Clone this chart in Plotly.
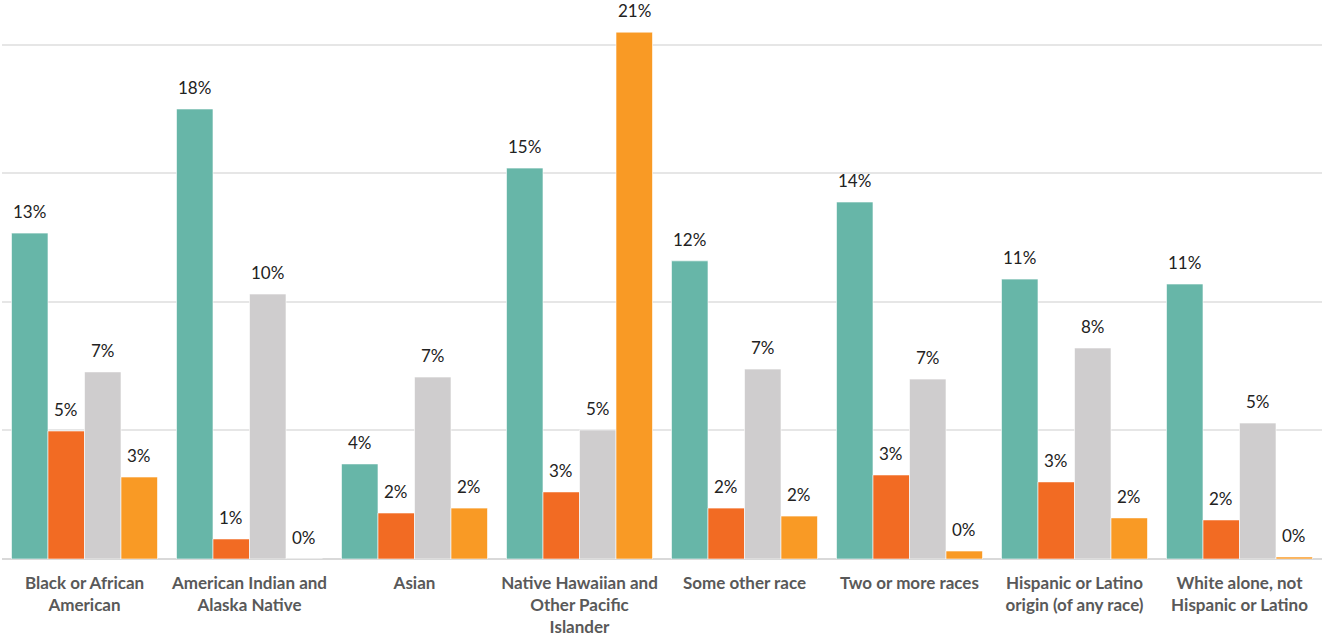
import plotly.graph_objects as go

categories = [
    "Black or African<br>American",
    "American Indian and<br>Alaska Native",
    "Asian",
    "Native Hawaiian and<br>Other Pacific<br>Islander",
    "Some other race",
    "Two or more races",
    "Hispanic or Latino<br>origin (of any race)",
    "White alone, not<br>Hispanic or Latino",
]

series_names = ["Series 1", "Series 2", "Series 3", "Series 4"]
series_1 = [12.68, 17.51, 3.70, 15.21, 11.60, 13.89, 10.89, 10.70]
series_2 = [4.98, 0.78, 1.79, 2.61, 1.98, 3.27, 3.00, 1.52]
series_3 = [7.28, 10.31, 7.08, 5.02, 7.39, 7.00, 8.21, 5.29]
series_4 = [3.19, 0.00, 1.98, 20.50, 1.67, 0.31, 1.60, 0.08]

colors = ["#67b6a8", "#f26b23", "#cfcdce", "#f99a25"]

all_series = [series_1, series_2, series_3, series_4]

fig = go.Figure()
for name, vals, col in zip(series_names, all_series, colors):
    fig.add_trace(go.Bar(
        x=categories, y=vals, name=name,
        marker=dict(color=col, line=dict(color="rgba(255,255,255,0.6)", width=1)),
        cliponaxis=False,
    ))

# value labels as annotations above each bar
width_px = 1320
n_cat = len(categories)
group_px = width_px / n_cat * (1 - 0.115)
bar_px = group_px / len(all_series)
for si, vals in enumerate(all_series):
    offset = (si - (len(all_series) - 1) / 2) * bar_px
    for cat, v in zip(categories, vals):
        fig.add_annotation(
            x=cat, y=v, xref="x", yref="y",
            text=f"{round(v + 1e-9):.0f}%", showarrow=False,
            xshift=offset, yshift=9, yanchor="bottom",
            font=dict(family="Lato, sans-serif", size=17, color="#222222"),
        )

fig.update_layout(
    width=1322, height=637,
    margin=dict(l=2, r=0, t=0, b=78),
    barmode="group", bargap=0.115, bargroupgap=0,
    plot_bgcolor="white", paper_bgcolor="white",
    showlegend=False,
    xaxis=dict(
        tickfont=dict(family="Lato, sans-serif", size=17, color="#595959", weight="bold"),
        showline=False, ticks="", ticklabelstandoff=12,
    ),
    yaxis=dict(
        range=[0, 21.75], dtick=5, showticklabels=False,
        gridcolor="#e6e6e6", gridwidth=1.5,
        zeroline=True, zerolinecolor="#d9d9d9", zerolinewidth=1.5,
    ),
)

fig.write_html("out.html")
